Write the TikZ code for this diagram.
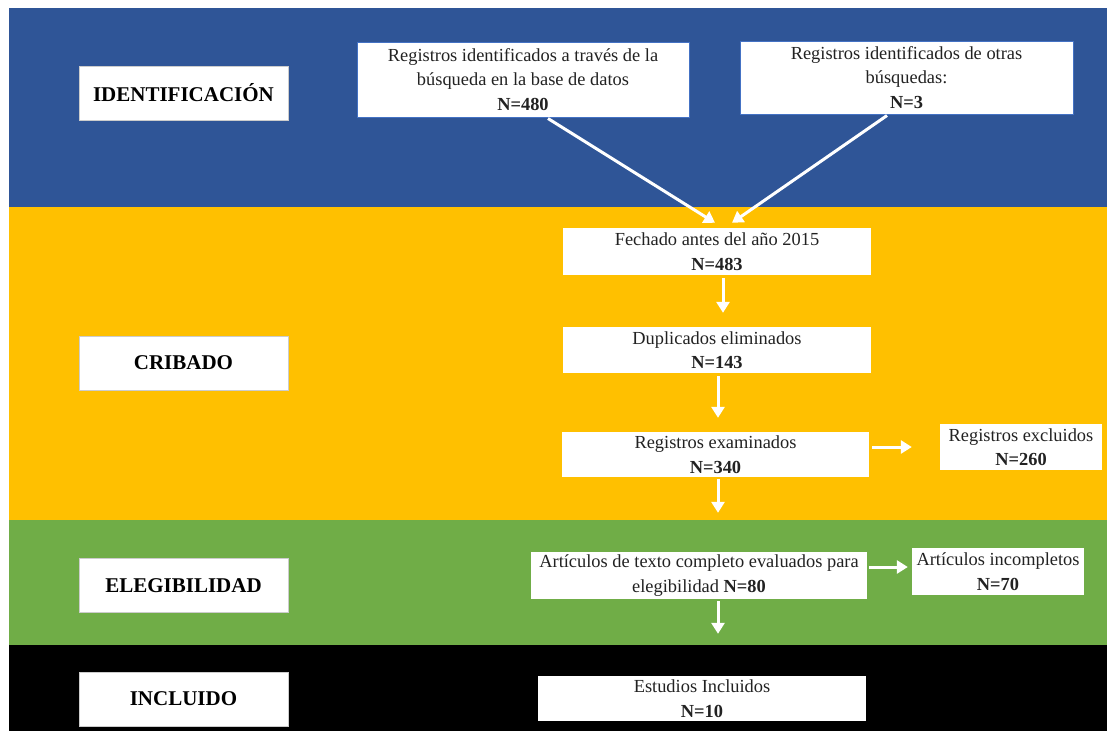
\documentclass[tikz,border=0pt]{standalone}
\usepackage{fontspec}
\setmainfont{Liberation Serif}
\usetikzlibrary{arrows.meta}
\definecolor{bandblue}{HTML}{2F5597}
\definecolor{bandyellow}{HTML}{FFC000}
\definecolor{bandgreen}{HTML}{70AD47}
\definecolor{boxline}{HTML}{4472C4}
\definecolor{txt}{HTML}{222222}
\begin{document}
\begin{tikzpicture}[x=1pt,y=-1pt,
  box/.style={fill=white, inner sep=0pt, align=center, text=txt,
    font=\fontsize{18.4}{24.5}\selectfont},
  topbox/.style={box, draw=boxline, line width=1pt},
  stagebox/.style={fill=white, draw=gray!40, line width=0.6pt, inner sep=0pt,
    minimum width=209pt, minimum height=54pt, text=black,
    font=\fontsize{21}{24}\selectfont\bfseries},
  arr/.style={draw=white, line width=3pt, -{Triangle[length=11pt,width=13pt]}}]
\useasboundingbox (0,0) rectangle (1107,731);
\fill[white] (0,0) rectangle (1107,731);
% bands
\fill[bandblue] (9,8) rectangle (1107,207);
\fill[bandyellow] (9,207) rectangle (1107,520);
\fill[bandgreen] (9,520) rectangle (1107,645);
\fill[black] (9,645) rectangle (1107,731);
% stage labels
\node[stagebox] (ident) at (183.5,93) {IDENTIFICACIÓN};
\node[stagebox] (crib) at (183.5,363) {CRIBADO};
\node[stagebox] (eleg) at (183.5,585.5) {ELEGIBILIDAD};
\node[stagebox] (incl) at (183.5,699) {INCLUIDO};
% boxes
\node[topbox, minimum width=332pt, minimum height=75pt] (a) at (523,79.5)
  {Registros identificados a través de la\\ búsqueda en la base de datos\\ \textbf{N=480}};
\node[topbox, minimum width=333pt, minimum height=73pt] (b) at (906.5,77.5)
  {Registros identificados de otras\\ búsquedas:\\ \textbf{N=3}};
\node[box, minimum width=308pt, minimum height=47pt] (fech) at (717,251.5)
  {Fechado antes del año 2015\\ \textbf{N=483}};
\node[box, minimum width=308pt, minimum height=46pt] (dup) at (717,350)
  {Duplicados eliminados\\ \textbf{N=143}};
\node[box, minimum width=307pt, minimum height=45pt] (exam) at (715.5,454.5)
  {Registros examinados\\ \textbf{N=340}};
\node[box, minimum width=162pt, minimum height=46pt] (excl) at (1021,447)
  {Registros excluidos\\ \textbf{N=260}};
\node[box, minimum width=336pt, minimum height=47pt] (art) at (699,575.5)
  {Artículos de texto completo evaluados para\\ elegibilidad \textbf{N=80}};
\node[box, minimum width=172pt, minimum height=47pt] (inc) at (998,571.5)
  {Artículos incompletos\\ \textbf{N=70}};
\node[box, minimum width=328pt, minimum height=45pt] (est) at (702,698.5)
  {Estudios Incluidos\\ \textbf{N=10}};
% connectors
\draw[arr] ([xshift=25pt,yshift=-1pt]a.south) -- ([xshift=-2pt,yshift=5pt]fech.north);
\draw[arr] ([xshift=-19.5pt,yshift=-1pt]b.south) -- ([xshift=15pt,yshift=5pt]fech.north);
\draw[arr] ([xshift=6pt,yshift=-3pt]fech.south) -- ([xshift=6pt,yshift=14pt]dup.north);
\draw[arr] ([xshift=1pt,yshift=-3pt]dup.south) -- ([xshift=2.5pt,yshift=14pt]exam.north);
\draw[arr] ([xshift=3pt,yshift=7.5pt]exam.east) -- ([xshift=-28pt]excl.west);
\draw[arr] ([xshift=2.5pt,yshift=-2pt]exam.south) -- ([xshift=19pt,yshift=39pt]art.north);
\draw[arr] ([xshift=2pt,yshift=8.5pt]art.east) -- ([xshift=-4pt,yshift=4.5pt]inc.west);
\draw[arr] ([xshift=19pt,yshift=-2pt]art.south) -- ([xshift=16pt,yshift=42pt]est.north);
\end{tikzpicture}
\end{document}
